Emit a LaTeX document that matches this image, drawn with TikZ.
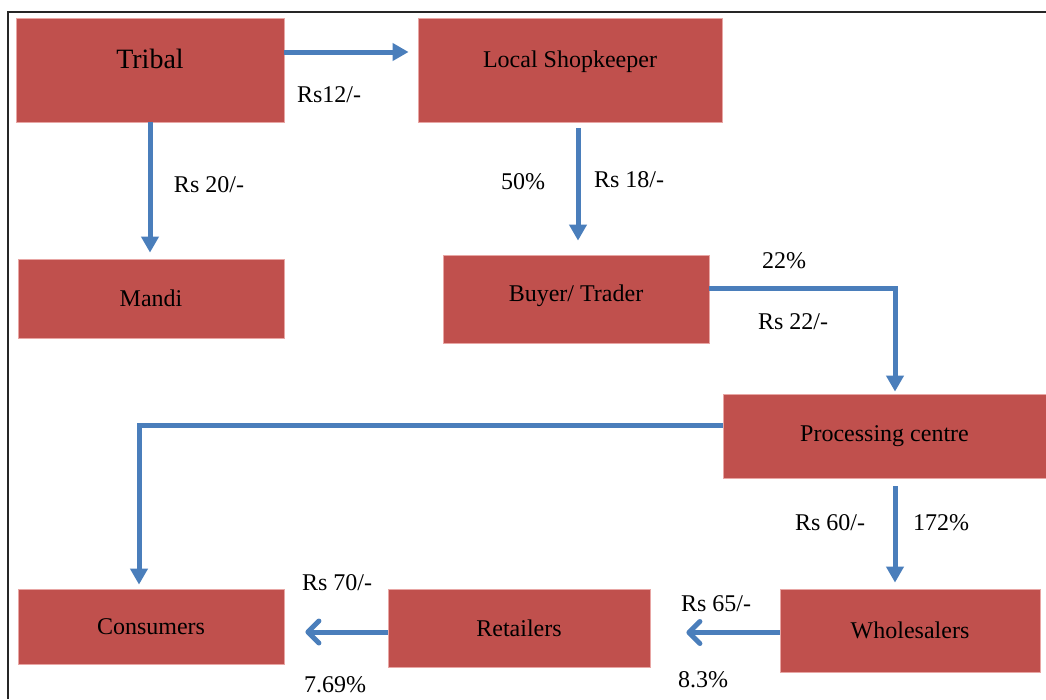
\documentclass[tikz,border=0pt]{standalone}
\usepackage{fontspec}
\setmainfont{Liberation Serif}
\usepackage{xcolor}
\usetikzlibrary{arrows.meta,positioning,calc}
\definecolor{boxred}{HTML}{C0504D}
\definecolor{boxedge}{HTML}{E8A6A4}
\definecolor{flowblue}{HTML}{4A7EBB}
\tikzset{
    stage/.style={draw=boxedge, line width=0.8pt, fill=boxred, inner sep=0pt,
        font=\fontsize{24}{28}\selectfont},
    flow/.style={draw=flowblue, line width=5pt},
    tipfill/.style={-{Triangle[length=16pt,width=17pt]}},
    tipbarb/.style={-{Straight Barb[length=11pt,width=22pt,round]}},
    price/.style={font=\fontsize{24}{28}\selectfont, inner sep=0pt}
}

\begin{document}
\begin{tikzpicture}[x=1pt, y=-1pt]
        \useasboundingbox (0,0) rectangle (1046,699);

        % Frame
        \draw[line width=2pt, black!85] (8,699) -- (8,12) -- (1046,12);

        % Boxes
        \node[stage, minimum width=268pt, minimum height=104pt, text depth=23pt,
            font=\fontsize{28}{32}\selectfont] (tribal) at (150,70) {Tribal};
        \node[stage, minimum width=304pt, minimum height=104pt, text depth=22pt]
            (shop) at (570,70) {Local Shopkeeper};
        \node[stage, minimum width=266pt, minimum height=79pt] (mandi) at (151,298.5) {Mandi};
        \node[stage, minimum width=266pt, minimum height=88pt, text depth=12pt]
            (buyer) at (576,299) {Buyer/ Trader};
        \node[stage, minimum width=323pt, minimum height=84pt] (proc) at (884.5,436) {Processing centre};
        \node[stage, minimum width=266pt, minimum height=75pt] (cons) at (151,626.5) {Consumers};
        \node[stage, minimum width=262pt, minimum height=78pt] (ret) at (519,628) {Retailers};
        \node[stage, minimum width=260pt, minimum height=83pt] (whole) at (910,630.5) {Wholesalers};

        % Arrows
        \draw[flow, tipfill, shorten >=9pt] ([yshift=18pt]tribal.east) -- ([yshift=18pt]shop.west);
        \draw[flow, tipfill, shorten >=6pt] (tribal.south) -- (tribal.south |- mandi.north);
        \draw[flow, tipfill, shorten <=6pt, shorten >=14pt]
            ([xshift=8pt]shop.south) -- ([xshift=8pt]shop.south |- buyer.north);
        \draw[flow, tipfill, shorten >=2pt] ([yshift=11pt]buyer.east) -| ([xshift=10.5pt]proc.north);
        \draw[flow, tipfill, shorten >=4pt] ([yshift=11pt]proc.west) -| ([xshift=-12pt]cons.north);
        \draw[flow, tipfill, shorten <=8pt, shorten >=6pt]
            ([xshift=10.5pt]proc.south) -- ([xshift=10.5pt]proc.south |- whole.north);
        \draw[flow, tipbarb, shorten >=36pt] ([yshift=-2pt]whole.west) -- ([yshift=-2pt]whole.west -| ret.east);
        \draw[flow, tipbarb, shorten >=21pt] ([yshift=-4pt]ret.west) -- ([yshift=-4pt]ret.west -| cons.east);

        % Labels
        \node[price] (p12) at (329,95) {Rs12/-};
        \node[price] (p20) at (209,185) {Rs 20/-};
        \node[price] (c50) at (523,182) {50\%};
        \node[price] (p18) at (629,180) {Rs 18/-};
        \node[price] (c22) at (784,261) {22\%};
        \node[price] (p22) at (793,322) {Rs 22/-};
        \node[price] (p60) at (830,523) {Rs 60/-};
        \node[price] (c172) at (941,523) {172\%};
        \node[price] (p65) at (716,604) {Rs 65/-};
        \node[price] (c83) at (703,680) {8.3\%};
        \node[price] (p70) at (337,583) {Rs 70/-};
        \node[price] (c769) at (335,685) {7.69\%};
    \end{tikzpicture}
\end{document}
